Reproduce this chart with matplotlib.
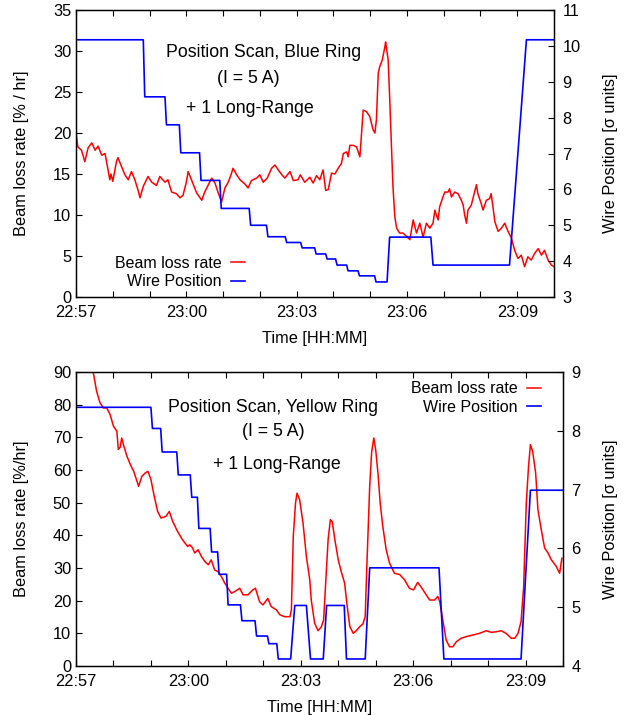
import matplotlib
matplotlib.use('Agg')
import matplotlib.pyplot as plt
import numpy as np

plt.rcParams['font.family'] = ['Liberation Sans', 'DejaVu Sans']
plt.rcParams['font.size'] = 11.8

# time in minutes after 22:57
tick_pos = [0, 3, 6, 9, 12]
tick_lab = ['22:57', '23:00', '23:03', '23:06', '23:09']

# ---- Blue ring ----
blue_loss_t = [0.0, 0.05, 0.15, 0.24, 0.33, 0.43, 0.52, 0.60, 0.70, 0.79, 0.83, 0.92, 0.95, 1.00,
               1.10, 1.14, 1.24, 1.33, 1.42, 1.51, 1.60, 1.69, 1.74, 1.83, 1.96, 2.06, 2.19, 2.28,
               2.42, 2.50, 2.60, 2.73, 2.83, 2.91, 3.00, 3.05, 3.14, 3.28, 3.42, 3.50, 3.59, 3.69,
               3.78, 3.86, 3.96, 4.05, 4.14, 4.23, 4.27, 4.37, 4.46, 4.59, 4.68, 4.77, 4.91, 5.00,
               5.09, 5.20, 5.32, 5.41, 5.50, 5.60, 5.68, 5.82, 5.91, 6.04, 6.10, 6.22, 6.36, 6.45,
               6.54, 6.63, 6.72, 6.79, 6.86, 6.95, 7.04, 7.13, 7.22, 7.27, 7.36, 7.40, 7.45, 7.54,
               7.63, 7.72, 7.74, 7.81, 7.90, 7.99, 8.08, 8.13, 8.17, 8.22, 8.26, 8.33, 8.40, 8.42,
               8.49, 8.53, 8.58, 8.62, 8.67, 8.72, 8.80, 8.89, 8.99, 9.08, 9.17, 9.26, 9.35, 9.44,
               9.53, 9.62, 9.71, 9.76, 9.80, 9.85, 9.89, 9.98, 10.03, 10.12, 10.16, 10.21, 10.30,
               10.39, 10.48, 10.53, 10.57, 10.62, 10.66, 10.75, 10.84, 10.89, 10.93, 11.02, 11.07,
               11.16, 11.25, 11.29, 11.34, 11.39, 11.48, 11.57, 11.66, 11.75, 11.84, 11.93, 12.02,
               12.11, 12.20, 12.29, 12.38, 12.47, 12.57, 12.66, 12.74, 12.84, 12.93, 13.00]
blue_loss = [20.0, 18.3, 17.9, 16.5, 18.2, 18.8, 17.9, 18.4, 17.3, 17.5, 16.5, 14.3, 15.0, 14.1,
             16.5, 17.0, 15.9, 14.9, 14.3, 15.3, 14.3, 13.0, 12.1, 13.5, 14.7, 14.0, 13.6, 14.7,
             14.0, 14.3, 12.8, 12.6, 12.1, 12.4, 14.0, 15.3, 14.3, 12.7, 11.8, 12.8, 13.6, 14.5,
             13.9, 12.8, 11.6, 13.3, 14.0, 15.1, 15.7, 14.9, 14.3, 13.8, 13.3, 14.2, 14.5, 14.9,
             14.0, 14.5, 15.7, 16.1, 15.5, 14.9, 14.5, 15.3, 14.2, 14.3, 14.9, 14.0, 14.6, 13.9,
             14.8, 14.3, 15.5, 13.0, 13.1, 15.1, 15.0, 15.7, 16.3, 17.5, 17.7, 17.1, 18.5, 18.5,
             18.3, 17.1, 18.3, 22.8, 22.6, 22.0, 20.4, 20.0, 21.6, 27.3, 28.1, 28.9, 30.5, 31.1,
             28.9, 24.4, 18.3, 13.5, 9.8, 8.4, 7.8, 7.8, 7.4, 7.0, 9.4, 7.8, 9.0, 7.3,
             9.0, 8.4, 9.0, 10.6, 10.0, 9.4, 11.0, 12.2, 12.8, 12.8, 13.2, 12.2, 12.8,
             12.6, 11.8, 11.2, 10.0, 9.0, 10.6, 11.2, 12.8, 13.7, 12.6, 11.4, 10.6,
             11.8, 12.0, 12.6, 11.0, 9.2, 8.0, 8.4, 9.0, 8.0, 7.2, 5.7, 4.7,
             5.1, 3.7, 4.9, 4.5, 5.3, 5.9, 5.1, 5.7, 4.5, 3.9, 3.7]
blue_wire_t = [0, 1.83, 1.87, 2.42, 2.46, 2.81, 2.85, 3.36, 3.40, 3.91, 3.95, 4.71, 4.75, 5.18,
               5.22, 5.69, 5.73, 6.11, 6.15, 6.49, 6.53, 6.79, 6.83, 7.06, 7.10, 7.36, 7.40, 7.67,
               7.71, 8.12, 8.16, 8.46, 8.53, 9.65, 9.71, 11.79, 12.25, 13.0]
blue_wire = [10.17, 10.17, 8.58, 8.58, 7.80, 7.80, 7.02, 7.02, 6.25, 6.25, 5.47, 5.47, 5.00, 5.00,
             4.68, 4.68, 4.52, 4.52, 4.37, 4.37, 4.20, 4.20, 4.06, 4.06, 3.89, 3.89, 3.73, 3.73,
             3.59, 3.59, 3.42, 3.42, 4.67, 4.67, 3.89, 3.89, 10.17, 10.17]

# ---- Yellow ring ----
yel_loss_t = [0.38, 0.46, 0.55, 0.64, 0.73, 0.82, 0.91, 1.00, 1.09, 1.13, 1.18, 1.22, 1.27, 1.36,
              1.45, 1.54, 1.63, 1.67, 1.76, 1.85, 1.92, 2.00, 2.09, 2.18, 2.27, 2.40, 2.49, 2.58,
              2.71, 2.84, 2.98, 3.04, 3.11, 3.17, 3.26, 3.35, 3.44, 3.53, 3.61, 3.70, 3.79, 3.88,
              3.97, 4.06, 4.15, 4.24, 4.37, 4.46, 4.59, 4.72, 4.79, 4.90, 4.99, 5.12, 5.21, 5.35,
              5.44, 5.57, 5.71, 5.75, 5.80, 5.86, 5.90, 5.97, 6.06, 6.15, 6.24, 6.28, 6.37, 6.46,
              6.55, 6.61, 6.67, 6.73, 6.79, 6.84, 6.91, 7.00, 7.08, 7.17, 7.24, 7.31, 7.40, 7.48,
              7.57, 7.66, 7.72, 7.76, 7.84, 7.89, 7.95, 8.00, 8.06, 8.12, 8.19, 8.28, 8.37, 8.50,
              8.64, 8.77, 8.90, 9.01, 9.12, 9.20, 9.35, 9.44, 9.57, 9.66, 9.71, 9.79, 9.88, 9.97,
              10.06, 10.15, 10.28, 10.42, 10.60, 10.77, 10.95, 11.09, 11.22, 11.35, 11.48, 11.62,
              11.71, 11.80, 11.88, 11.95, 12.02, 12.08, 12.13, 12.19, 12.27, 12.33, 12.42, 12.51,
              12.60, 12.69, 12.82, 12.91, 12.97]
yel_loss = [95.0, 89.8, 84.1, 80.6, 79.0, 79.0, 77.0, 73.4, 71.9, 66.3, 67.0, 69.8, 67.6, 64.2,
            61.7, 59.6, 56.5, 55.0, 58.1, 59.1, 59.6, 57.1, 51.9, 47.3, 45.3, 45.8, 47.3, 44.3,
            41.2, 38.7, 36.6, 37.1, 36.2, 34.6, 35.6, 33.5, 32.0, 31.0, 32.5, 29.4, 28.9, 27.4,
            25.4, 23.8, 22.3, 22.8, 23.8, 21.8, 21.8, 23.3, 23.8, 19.7, 18.7, 20.7, 18.2, 17.2,
            15.7, 15.1, 15.1, 17.2, 39.7, 49.9, 52.9, 50.9, 43.8, 33.5, 26.4, 20.2, 13.1, 10.8,
            12.0, 14.1, 26.4, 38.7, 44.8, 44.2, 38.7, 32.5, 28.9, 25.4, 18.2, 12.1, 10.0, 10.8,
            12.0, 12.9, 15.1, 29.4, 55.0, 65.2, 69.8, 66.2, 59.1, 49.9, 42.7, 35.6, 31.5, 28.4,
            28.0, 26.4, 23.8, 23.3, 25.6, 24.4, 21.8, 20.2, 20.2, 21.3, 19.7, 14.1, 8.0, 5.9,
            5.9, 7.4, 8.5, 9.0, 9.5, 10.0, 10.8, 10.3, 10.5, 10.8, 10.0, 8.5,
            8.5, 10.0, 13.6, 24.3, 49.9, 61.1, 67.8, 65.7, 59.1, 47.9, 41.7, 36.1,
            34.6, 32.5, 30.5, 28.4, 33.0]
yel_wire_t = [0, 2.00, 2.04, 2.26, 2.30, 2.69, 2.73, 3.05, 3.09, 3.24, 3.28, 3.58, 3.62, 3.78,
              3.82, 4.02, 4.06, 4.39, 4.43, 4.78, 4.82, 5.11, 5.15, 5.36, 5.40, 5.73, 5.84, 6.15,
              6.26, 6.60, 6.69, 7.16, 7.22, 7.72, 7.84, 9.69, 9.82, 11.88, 12.13, 13.0]
yel_wire = [8.40, 8.40, 8.04, 8.04, 7.64, 7.64, 7.25, 7.25, 6.87, 6.87, 6.34, 6.34, 5.94, 5.94,
            5.56, 5.56, 5.04, 5.04, 4.77, 4.77, 4.51, 4.51, 4.38, 4.38, 4.12, 4.12, 5.03, 5.03,
            4.12, 4.12, 5.03, 5.03, 4.12, 4.12, 5.67, 5.67, 4.12, 4.12, 6.99, 6.99]

fig = plt.figure(figsize=(6.25, 7.15), dpi=100)


def panel(rect, lt, lv, wt, wv, ylim, y2lim, ystep, ylabel, texts, leg_loc, leg_anchor):
    ax = fig.add_axes(rect)
    ax2 = ax.twinx()
    l1, = ax.plot(lt, lv, color='#ff0000', lw=1.1, label='Beam loss rate')
    l2, = ax2.plot(wt, wv, color='#0000ff', lw=1.2, label='Wire Position')
    ax.set_xlim(0, 13)
    ax.set_ylim(*ylim)
    ax2.set_ylim(*y2lim)
    ax.set_xticks(tick_pos)
    ax.set_xticklabels(tick_lab)
    ax.set_xticks(np.arange(0, 14, 1), minor=True)
    ax.set_yticks(np.arange(ylim[0], ylim[1] + 1, ystep))
    ax2.set_yticks(np.arange(y2lim[0], y2lim[1] + 1, 1))
    ax.tick_params(which='both', direction='in', length=4.5, top=True, right=False, width=0.8)
    ax.tick_params(axis='x', pad=6)
    ax2.tick_params(direction='in', length=4.5, width=0.8, pad=6)
    ax.set_xlabel('Time [HH:MM]', labelpad=8)
    ax.set_ylabel(ylabel, labelpad=17)
    ax2.set_ylabel('Wire Position [σ units]', labelpad=16)
    for s in ax.spines.values():
        s.set_linewidth(1.0)
    for (x, y, s) in texts:
        ax.text(x, y, s, transform=ax.transAxes, ha='center', va='center', fontsize=12.8)
    ax2.legend([l1, l2], ['Beam loss rate', 'Wire Position'], loc=leg_loc,
               bbox_to_anchor=leg_anchor, frameon=False, markerfirst=False, fontsize=11.5,
               handlelength=0.85, handletextpad=0.6, labelspacing=0.2, borderaxespad=0)
    return ax


panel([0.1216, 0.5846, 0.7648, 0.4014], blue_loss_t, blue_loss, blue_wire_t, blue_wire,
      (0, 35), (3, 11), 5, 'Beam loss rate [% / hr]',
      [(0.392, 0.852, 'Position Scan, Blue Ring'), (0.36, 0.76, '(I = 5 A)'),
       (0.364, 0.658, '+ 1 Long-Range')],
      'lower right', (0.366, 0.005))

panel([0.1216, 0.0685, 0.7792, 0.4112], yel_loss_t, yel_loss, yel_wire_t, yel_wire,
      (0, 90), (4, 9), 10, 'Beam loss rate [%/hr]',
      [(0.405, 0.88, 'Position Scan, Yellow Ring'), (0.405, 0.796, '(I = 5 A)'),
       (0.413, 0.687, '+ 1 Long-Range')],
      'upper right', (0.968, 0.99))

fig.savefig('out.png', dpi=100)
